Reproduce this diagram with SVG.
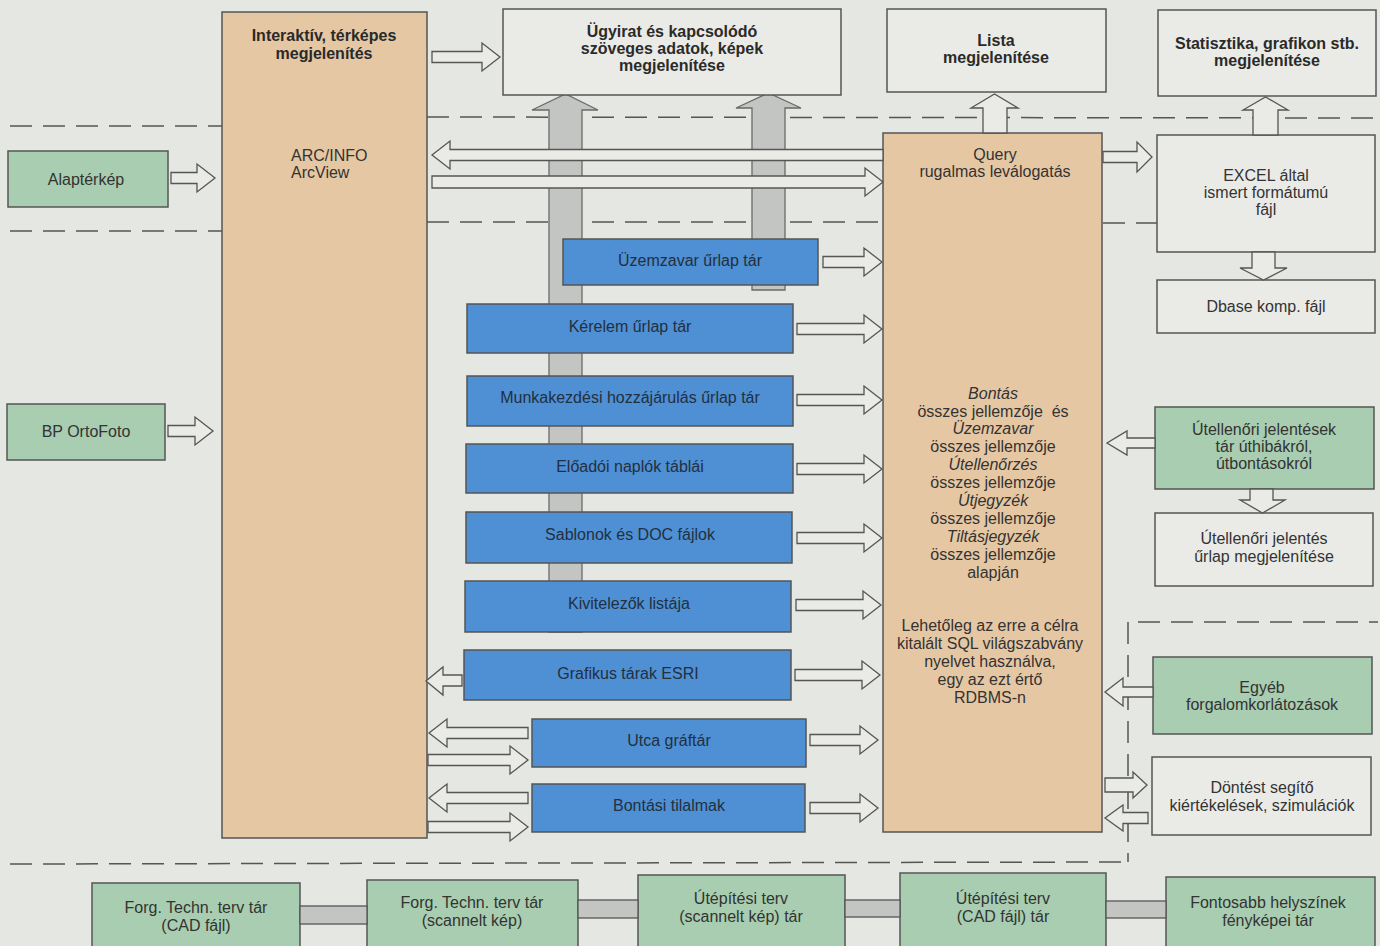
<svg xmlns="http://www.w3.org/2000/svg" width="1380" height="946" viewBox="0 0 1380 946">
<style>
text{font-family:"Liberation Sans",Arial,sans-serif;font-size:16px;fill:#333;text-anchor:middle}
.b{font-weight:bold;fill:#2a2a2a}
.i{font-style:italic}
.bl{fill:#22303f}
.box{stroke:#555;stroke-width:1.5}
.tan{fill:#e6c7a3}
.grn{fill:#a8cdb0}
.wht{fill:#eaebe7}
.blu{fill:#4f8fd3}
.dash{stroke:#555;stroke-width:1.5;stroke-dasharray:22 11;fill:none}
.ar{fill:#eaebe7;stroke:#555;stroke-width:1.3;stroke-linejoin:miter}
.ga{fill:#c3c5c3;stroke:#6a6a6a;stroke-width:1.3}
.bar{fill:#c3c5c3;stroke:#555;stroke-width:1.3}
</style>
<rect width="1380" height="946" fill="#e5e7e3"/>
<g id="separators">
<line class="dash" x1="10" y1="126" x2="222" y2="126"/>
<line class="dash" x1="427" y1="117" x2="1380" y2="118"/>
<line class="dash" x1="10" y1="231" x2="222" y2="231"/>
<line class="dash" x1="427" y1="222" x2="883" y2="222"/>
<line class="dash" x1="1103" y1="223" x2="1157" y2="223"/>
<line class="dash" x1="10" y1="864" x2="1127" y2="862"/>
<line class="dash" x1="1128" y1="622" x2="1128" y2="862"/>
<line class="dash" x1="1138" y1="622" x2="1378" y2="622"/>
</g>
<g id="grey-arrows">
<polygon class="ga" points="549,632 549,110 532,110 565.5,94 598,110 582,110 582,632"/>
<polygon class="ga" points="752,290 752,108 736,108 768.5,93 801,108 785,108 785,290"/>
</g>
<g id="n-interaktiv"><rect class="box tan" x="222" y="12" width="205" height="826"/>
<text class="b" x="324" y="41">Interaktív, térképes</text>
<text class="b" x="324" y="59">megjelenítés</text>
<text x="291" y="161" style="text-anchor:start">ARC/INFO</text>
<text x="291" y="178" style="text-anchor:start">ArcView</text></g>
<g id="n-ugyirat"><rect class="box wht" x="503" y="9" width="338" height="86"/>
<text class="b" x="672" y="37">Ügyirat és kapcsolódó</text>
<text class="b" x="672" y="54">szöveges adatok, képek</text>
<text class="b" x="672" y="71">megjelenítése</text></g>
<g id="n-lista"><rect class="box wht" x="887" y="9" width="219" height="83"/>
<text class="b" x="996" y="46">Lista</text>
<text class="b" x="996" y="63">megjelenítése</text></g>
<g id="n-statisztika"><rect class="box wht" x="1158" y="10" width="218" height="86"/>
<text class="b" x="1267" y="49">Statisztika, grafikon stb.</text>
<text class="b" x="1267" y="66">megjelenítése</text></g>
<g id="n-alapterkep"><rect class="box grn" x="8" y="151" width="160" height="56"/>
<text x="86" y="185">Alaptérkép</text></g>
<g id="n-bportofoto"><rect class="box grn" x="7" y="404" width="158" height="56"/>
<text x="86" y="437">BP OrtoFoto</text></g>
<g id="n-query"><rect class="box tan" x="883" y="133" width="219" height="699"/>
<text x="995" y="160">Query</text>
<text x="995" y="177">rugalmas leválogatás</text>
<text class="i" x="993" y="399">Bontás</text>
<text x="993" y="417" xml:space="preserve">összes jellemzője  és</text>
<text class="i" x="993" y="434">Üzemzavar</text>
<text x="993" y="452">összes jellemzője</text>
<text class="i" x="993" y="470">Útellenőrzés</text>
<text x="993" y="488">összes jellemzője</text>
<text class="i" x="993" y="506">Útjegyzék</text>
<text x="993" y="524">összes jellemzője</text>
<text class="i" x="993" y="542">Tiltásjegyzék</text>
<text x="993" y="560">összes jellemzője</text>
<text x="993" y="578">alapján</text>
<text x="990" y="631">Lehetőleg az erre a célra</text>
<text x="990" y="649">kitalált SQL világszabvány</text>
<text x="990" y="667">nyelvet használva,</text>
<text x="990" y="685">egy az ezt értő</text>
<text x="990" y="703">RDBMS-n</text></g>
<g id="n-excel"><rect class="box wht" x="1157" y="135" width="218" height="117"/>
<text x="1266" y="181">EXCEL által</text>
<text x="1266" y="198">ismert formátumú</text>
<text x="1266" y="215">fájl</text></g>
<g id="n-dbase"><rect class="box wht" x="1157" y="280" width="218" height="53"/>
<text x="1266" y="312">Dbase komp. fájl</text></g>
<g id="n-utell-tar"><rect class="box grn" x="1155" y="407" width="219" height="82"/>
<text x="1264" y="435">Útellenőri jelentések</text>
<text x="1264" y="452">tár úthibákról,</text>
<text x="1264" y="469">útbontásokról</text></g>
<g id="n-utell-urlap"><rect class="box wht" x="1155" y="513" width="218" height="73"/>
<text x="1264" y="544">Útellenőri jelentés</text>
<text x="1264" y="562">űrlap megjelenítése</text></g>
<g id="n-egyeb"><rect class="box grn" x="1153" y="657" width="219" height="77"/>
<text x="1262" y="693">Egyéb</text>
<text x="1262" y="710">forgalomkorlátozások</text></g>
<g id="n-dontest"><rect class="box wht" x="1152" y="757" width="219" height="78"/>
<text x="1262" y="793">Döntést segítő</text>
<text x="1262" y="811">kiértékelések, szimulációk</text></g>
<g id="n-uzemzavar"><rect class="box blu" x="563" y="239" width="255" height="46"/>
<text class="bl" x="690" y="266">Üzemzavar űrlap tár</text></g>
<g id="n-kerelem"><rect class="box blu" x="467" y="304" width="326" height="49"/>
<text class="bl" x="630" y="332">Kérelem űrlap tár</text></g>
<g id="n-munkakezdesi"><rect class="box blu" x="467" y="376" width="326" height="50"/>
<text class="bl" x="630" y="403">Munkakezdési hozzájárulás űrlap tár</text></g>
<g id="n-eloadoi"><rect class="box blu" x="466" y="444" width="327" height="49"/>
<text class="bl" x="630" y="472">Előadói naplók táblái</text></g>
<g id="n-sablonok"><rect class="box blu" x="466" y="512" width="326" height="51"/>
<text class="bl" x="630" y="540">Sablonok és DOC fájlok</text></g>
<g id="n-kivitelezok"><rect class="box blu" x="465" y="581" width="326" height="51"/>
<text class="bl" x="629" y="609">Kivitelezők listája</text></g>
<g id="n-grafikus"><rect class="box blu" x="464" y="650" width="327" height="50"/>
<text class="bl" x="628" y="679">Grafikus tárak ESRI</text></g>
<g id="n-utca"><rect class="box blu" x="532" y="719" width="274" height="48"/>
<text class="bl" x="669" y="746">Utca gráftár</text></g>
<g id="n-bontasi"><rect class="box blu" x="532" y="784" width="273" height="48"/>
<text class="bl" x="669" y="811">Bontási tilalmak</text></g>
<g id="n-forg-cad"><rect class="box grn" x="92" y="883" width="208" height="70"/>
<text x="196" y="913">Forg. Techn. terv tár</text>
<text x="196" y="931">(CAD fájl)</text></g>
<g id="n-forg-scan"><rect class="box grn" x="367" y="880" width="211" height="73"/>
<text x="472" y="908">Forg. Techn. terv tár</text>
<text x="472" y="926">(scannelt kép)</text></g>
<g id="n-utep-scan"><rect class="box grn" x="638" y="875" width="207" height="78"/>
<text x="741" y="904">Útépítési terv</text>
<text x="741" y="922">(scannelt kép) tár</text></g>
<g id="n-utep-cad"><rect class="box grn" x="900" y="873" width="206" height="80"/>
<text x="1003" y="904">Útépítési terv</text>
<text x="1003" y="922">(CAD fájl) tár</text></g>
<g id="n-fenykep"><rect class="box grn" x="1166" y="877" width="209" height="76"/>
<text x="1268" y="908">Fontosabb helyszínek</text>
<text x="1268" y="926">fényképei tár</text></g>
<g id="connectors">
<polygon class="ar" points="171,172.5 197,172.5 197,164 215,178 197,192 197,183.5 171,183.5"/>
<polygon class="ar" points="168,425.5 195,425.5 195,417 213,431 195,445 195,436.5 168,436.5"/>
<polygon class="ar" points="432,51.5 482,51.5 482,43 500,57 482,71 482,62.5 432,62.5"/>
<polygon class="ar" points="883,149.5 450,149.5 450,141 432,155 450,169 450,160.5 883,160.5"/>
<polygon class="ar" points="432,176 865,176 865,168 883,182 865,196 865,188 432,188"/>
<polygon class="ar" points="1103,151.5 1137,151.5 1137,142 1152,157 1137,172 1137,162.5 1103,162.5"/>
<polygon class="ar" points="983,133 983,108 971,108 994.5,94 1018,108 1007,108 1007,133"/>
<polygon class="ar" points="1253,135 1253,110 1243,110 1265.5,97 1288,110 1278,110 1278,135"/>
<polygon class="ar" points="1252,252 1252,268 1240,268 1263.5,280 1287,268 1275,268 1275,252"/>
<polygon class="ar" points="1250,489 1250,500 1240,500 1262.5,513 1285,500 1273,500 1273,489"/>
<polygon class="ar" points="823,256.5 864,256.5 864,248 882,262 864,276 864,267.5 823,267.5"/>
<polygon class="ar" points="797,323.5 864,323.5 864,315 882,329 864,343 864,334.5 797,334.5"/>
<polygon class="ar" points="797,394.5 864,394.5 864,386 882,400 864,414 864,405.5 797,405.5"/>
<polygon class="ar" points="797,463.5 864,463.5 864,455 882,469 864,483 864,474.5 797,474.5"/>
<polygon class="ar" points="797,532.5 864,532.5 864,524 882,538 864,552 864,543.5 797,543.5"/>
<polygon class="ar" points="796,599.5 863,599.5 863,591 881,605 863,619 863,610.5 796,610.5"/>
<polygon class="ar" points="795,669.5 862,669.5 862,661 880,675 862,689 862,680.5 795,680.5"/>
<polygon class="ar" points="462,675 443,675 443,667 426,681 443,695 443,686 462,686"/>
<polygon class="ar" points="528,727.5 447,727.5 447,719 429,733 447,747 447,738.5 528,738.5"/>
<polygon class="ar" points="428,754.5 510,754.5 510,746 528,760 510,774 510,765.5 428,765.5"/>
<polygon class="ar" points="810,734.5 860,734.5 860,726 878,740 860,754 860,745.5 810,745.5"/>
<polygon class="ar" points="528,792.5 447,792.5 447,784 429,798 447,812 447,803.5 528,803.5"/>
<polygon class="ar" points="428,821.5 510,821.5 510,813 528,827 510,841 510,832.5 428,832.5"/>
<polygon class="ar" points="810,802.5 860,802.5 860,794 878,808 860,822 860,813.5 810,813.5"/>
<polygon class="ar" points="1155,438 1127,438 1127,431 1107,443 1127,455 1127,448 1155,448"/>
<polygon class="ar" points="1153,687 1123,687 1123,678 1105,692 1123,706 1123,697 1153,697"/>
<polygon class="ar" points="1105,778 1133,778 1133,772 1147,785 1133,798 1133,792 1105,792"/>
<polygon class="ar" points="1148,812.5 1123,812.5 1123,805 1105,818 1123,831 1123,823.5 1148,823.5"/>
<rect class="bar" x="300" y="906" width="67" height="18"/>
<rect class="bar" x="578" y="900" width="60" height="18"/>
<rect class="bar" x="845" y="900" width="55" height="17"/>
<rect class="bar" x="1106" y="901" width="60" height="17"/>
</g>
</svg>
